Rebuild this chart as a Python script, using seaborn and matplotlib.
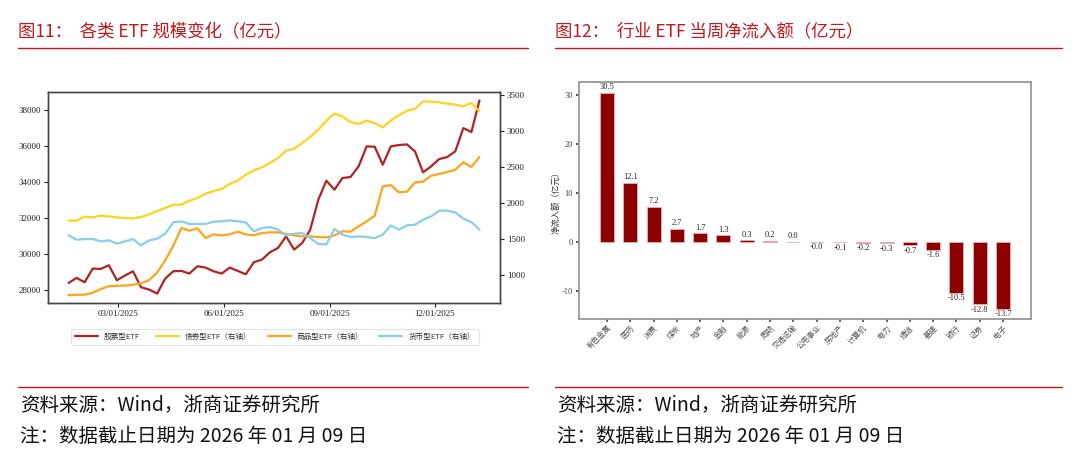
import numpy as np
import pandas as pd
import matplotlib
matplotlib.use("Agg")
import matplotlib.pyplot as plt
import matplotlib.dates as mdates
import seaborn as sns

# ---------------- data ----------------
dates = pd.date_range("2025-01-17", periods=52, freq="7D")

stock = [28372, 28650, 28409, 29171, 29153, 29357, 28521, 28781, 29022, 28130,
         28000, 27777, 28613, 29022, 29041, 28892, 29301, 29227, 29022, 28892,
         29227, 29041, 28855, 29524, 29673, 30082, 30324, 30974, 30231, 30602,
         31346, 33019, 34079, 33577, 34228, 34283, 34878, 35994, 35975, 34971,
         35994, 36068, 36105, 35715, 34543, 34878, 35287, 35399, 35715, 37016,
         36793, 38559]

bond = [1750, 1750, 1806, 1796, 1819, 1810, 1796, 1787, 1782, 1801,
        1838, 1884, 1926, 1972, 1972, 2028, 2065, 2125, 2162, 2190,
        2259, 2306, 2389, 2449, 2491, 2551, 2620, 2722, 2750, 2829,
        2912, 3014, 3139, 3236, 3199, 3120, 3093, 3139, 3106, 3046,
        3139, 3213, 3278, 3301, 3407, 3403, 3394, 3375, 3361, 3338,
        3384, 3269]

commodity = [715, 720, 722, 750, 800, 840, 845, 848, 860, 880,
             925, 1030, 1199, 1403, 1648, 1611, 1644, 1509, 1560, 1546,
             1560, 1597, 1560, 1546, 1579, 1588, 1588, 1565, 1546, 1532,
             1532, 1523, 1519, 1546, 1602, 1597, 1671, 1741, 1819, 2227,
             2245, 2144, 2153, 2282, 2292, 2375, 2398, 2426, 2458, 2560,
             2495, 2634]

money = [1546, 1486, 1495, 1495, 1463, 1477, 1431, 1463, 1495, 1407,
         1477, 1500, 1569, 1727, 1741, 1704, 1704, 1704, 1736, 1741,
         1755, 1741, 1727, 1602, 1648, 1662, 1625, 1546, 1569, 1579,
         1509, 1426, 1421, 1634, 1556, 1523, 1532, 1523, 1509, 1556,
         1685, 1625, 1685, 1694, 1764, 1810, 1889, 1889, 1866, 1778,
         1731, 1625]

series_names = ["股票型ETF", "债券型ETF（右轴）", "商品型ETF（右轴）", "货币型ETF（右轴）"]

industries = ["有色金属", "医药", "消费", "煤炭", "地产", "金融", "能源", "周期", "交通运输",
              "公用事业", "房地产", "计算机", "电力", "通信", "基建", "银行", "证券", "电子"]
flows = [30.5, 12.1, 7.2, 2.7, 1.7, 1.3, 0.3, 0.2, 0.02,
         -0.02, -0.1, -0.2, -0.3, -0.7, -1.6, -10.5, -12.8, -13.7]

# ---------------- style ----------------
sns.set_theme(style="white")
plt.rcParams["font.family"] = ["Liberation Serif", "Noto Sans CJK SC", "DejaVu Sans"]
plt.rcParams["axes.unicode_minus"] = False

fig = plt.figure(figsize=(10.8, 4.55), dpi=100)

RED = "#c4161c"
CJK = ["Noto Sans CJK SC", "DejaVu Sans"]

# titles and rules
fig.text(18 / 1080, 1 - 31 / 455, "图11：  各类 ETF 规模变化（亿元）", color=RED,
         fontsize=12.5, va="center", ha="left", family=CJK)
fig.text(555 / 1080, 1 - 31 / 455, "图12：  行业 ETF 当周净流入额（亿元）", color=RED,
         fontsize=12.5, va="center", ha="left", family=CJK)
for x0, x1 in [(18, 528), (555, 1062)]:
    fig.add_artist(plt.Line2D([x0 / 1080, x1 / 1080], [1 - 48 / 455] * 2, color=RED, lw=1.0))
    fig.add_artist(plt.Line2D([x0 / 1080, x1 / 1080], [1 - 387 / 455] * 2, color=RED, lw=1.0))
for x0 in [20, 557]:
    fig.text(x0 / 1080, 1 - 405 / 455, "资料来源：Wind，浙商证券研究所", fontsize=14,
             va="center", ha="left", family=CJK, color="#111111")
    fig.text(x0 / 1080, 1 - 437 / 455, "注：数据截止日期为 2026 年 01 月 09 日", fontsize=14,
             va="center", ha="left", family=CJK, color="#111111")

# ---------------- left chart ----------------
ax1 = fig.add_axes([48 / 1080, 1 - 303 / 455, 452 / 1080, 211 / 455])
ax2 = ax1.twinx()

df = pd.DataFrame({"date": dates, "stock": stock, "bond": bond,
                   "commodity": commodity, "money": money})

colors = ["#b22222", "#ffd21f", "#ffa31a", "#87ceeb"]
sns.lineplot(data=df, x="date", y="stock", ax=ax1, color=colors[0], lw=1.6, label=series_names[0], legend=False)
sns.lineplot(data=df, x="date", y="bond", ax=ax2, color=colors[1], lw=1.6, label=series_names[1], legend=False)
sns.lineplot(data=df, x="date", y="commodity", ax=ax2, color=colors[2], lw=1.6, label=series_names[2], legend=False)
sns.lineplot(data=df, x="date", y="money", ax=ax2, color=colors[3], lw=1.6, label=series_names[3], legend=False)

ax1.set_ylim(27250, 39030)
ax2.set_ylim(607, 3537)
ax1.set_yticks(np.arange(28000, 38001, 2000))
ax2.set_yticks(np.arange(1000, 3501, 500))
ax1.xaxis.set_major_locator(mdates.MonthLocator(bymonth=[3, 6, 9, 12]))
ax1.xaxis.set_major_formatter(mdates.DateFormatter("%m/%d/%Y"))
for a in (ax1, ax2):
    a.set_xlabel("")
    a.set_ylabel("")
    a.tick_params(labelsize=6.5, length=3, width=0.8, colors="#222222", pad=2)
    for s in a.spines.values():
        s.set_color("#444444")
        s.set_linewidth(1.0)
ax1.tick_params(axis="y", left=True)
ax1.tick_params(axis="x", bottom=True)
ax2.tick_params(axis="y", right=True)

h1, lab1 = ax1.get_legend_handles_labels()
h2, lab2 = ax2.get_legend_handles_labels()
leg = fig.legend(h1 + h2, lab1 + lab2, loc="center", bbox_to_anchor=(275 / 1080, 1 - 337 / 455),
                 ncol=4, frameon=True, prop={"family": CJK, "size": 5.5},
                 handlelength=3, columnspacing=2.1, borderpad=0.5)
leg.get_frame().set_edgecolor("#dddddd")
leg.get_frame().set_linewidth(0.8)
for t in leg.get_texts():
    t.set_color("#333333")

# ---------------- right chart ----------------
ax3 = fig.add_axes([579 / 1080, 1 - 319 / 455, 452 / 1080, 237 / 455])
bdf = pd.DataFrame({"industry": industries, "flow": flows})
sns.barplot(data=bdf, x="industry", y="flow", ax=ax3, color="#8b0000", width=0.6,
            edgecolor="#f0b0b0", linewidth=0.6, saturation=1)
ax3.set_xlim(-1.2, 18.2)
ax3.set_ylim(-15.8, 32.7)
ax3.set_yticks([-10, 0, 10, 20, 30])
ax3.set_xlabel("")
ax3.set_ylabel("净流入额（亿元）", fontsize=6, family=CJK, color="#333333", labelpad=1)
ax3.tick_params(axis="y", labelsize=6, length=2.5, left=True, colors="#444444", pad=2)
ax3.tick_params(axis="x", labelsize=5.5, length=2.5, bottom=True, colors="#555555", pad=1)
for lab in ax3.get_xticklabels():
    lab.set_rotation(45)
    lab.set_ha("right")
    lab.set_rotation_mode("anchor")
    lab.set_family(CJK)
for s in ax3.spines.values():
    s.set_color("#999999")
    s.set_linewidth(1.3)
ax3.bar_label(ax3.containers[0], fmt="%.1f", fontsize=6, padding=1, color="#222222")

fig.savefig("out.png", dpi=100)
